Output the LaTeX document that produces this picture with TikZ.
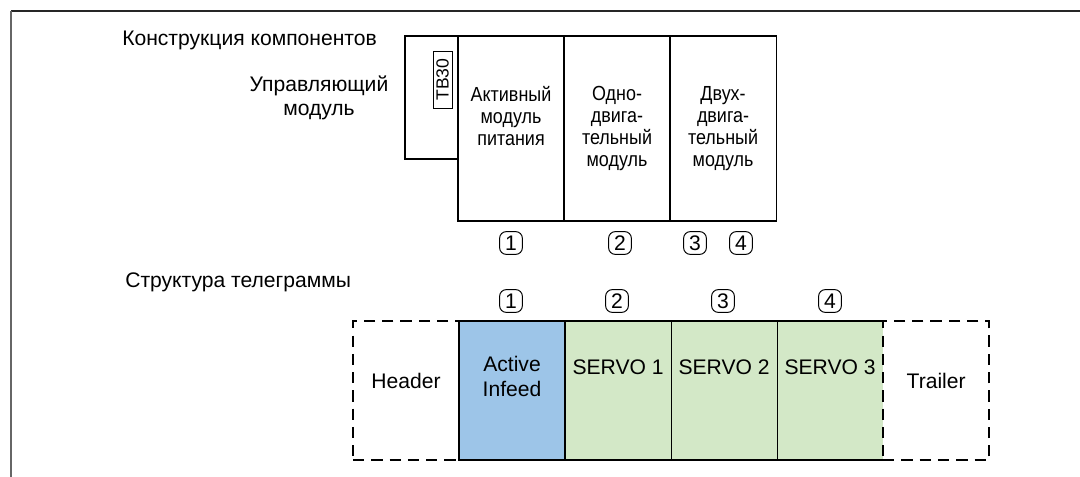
\documentclass[tikz,border=0pt]{standalone}
\usepackage{fontspec}
\setmainfont{Liberation Sans}
\newfontfamily\narrowsans[FakeStretch=0.88]{Liberation Sans}
\usetikzlibrary{calc,positioning}
\definecolor{infeedblue}{RGB}{157,197,232}
\definecolor{servogreen}{RGB}{211,232,199}

\begin{document}
\begin{tikzpicture}[
  x=0.025cm, y=-0.025cm,
  every node/.style={font=\fontsize{15}{17}\selectfont},
  module/.style={draw=black,line width=0.8pt,outer sep=0pt,inner sep=0pt,
                 minimum width=2.65cm,minimum height=4.625cm},
  modtext/.style={align=center,anchor=north,inner sep=0pt,
                  font=\narrowsans\fontsize{14.5}{15.6}\selectfont},
  slot/.style={line width=0.8pt,outer sep=0pt,inner sep=0pt,
               minimum width=2.65cm,minimum height=3.475cm},
  frame/.style={slot,draw=black,dashed,line width=1.2pt,
                dash pattern=on 8pt off 5pt},
  num/.style={draw=black,line width=0.7pt,rounded corners=0.17cm,
              minimum width=0.57cm,minimum height=0.57cm,inner sep=0pt,
              font=\fontsize{15}{17}\selectfont},
  lowtext/.style={font=\fontsize{15}{17.8}\selectfont,inner sep=0pt}
]
\useasboundingbox (0,0) rectangle (1080,477);
\draw[line width=1pt,black!85] (1080,11) -- (11,11);
\draw[line width=1pt,black!60] (11,11) -- (11,477);

% component layout
\node[anchor=base west,inner sep=0pt] (titleA) at (122,46) {Конструкция компонентов};
\node[module,anchor=north west] (m1) at (458,36) {};
\node[module,right=0pt of m1] (m2) {};
\node[module,right=0pt of m2] (m3) {};
\node[module,anchor=north east,minimum width=1.325cm,minimum height=3.075cm]
  (ctrl) at (m1.north west) {};
\node[draw=black,line width=0.6pt,rotate=90,minimum width=1.425cm,
      minimum height=0.475cm,inner sep=0pt,font=\fontsize{12.5}{14}\selectfont]
  (tb) at (442.5,79.5) {TB30};
\node[align=center,anchor=north,inner sep=0pt,
      font=\fontsize{15}{17}\selectfont] (ctrltxt) at (319,76)
  {Управляющий\\модуль};

\node[modtext] (m1txt) at ($(m1.north)+(0,50)$) {Активный\\модуль\\питания};
\node[modtext] (m2txt) at ($(m2.north)+(0,50)$) {Одно-\\двига-\\тельный\\модуль};
\node[modtext] (m3txt) at ($(m3.north)+(0,50)$) {Двух-\\двига-\\тельный\\модуль};

\node[num] (c1) at (511,243) {1};
\node[num] (c2) at (620,243) {2};
\node[num] (c3) at (695,243) {3};
\node[num] (c4) at (741,243) {4};

% telegram layout
\node[anchor=base west,inner sep=0pt] (titleB) at (125,288) {Структура телеграммы};
\node[frame,anchor=north west] (hdr) at (353,321) {};
\node[slot,draw=black,fill=infeedblue,right=0pt of hdr] (inf) {};
\node[slot,draw=black,fill=servogreen,right=0pt of inf] (s1) {};
\node[slot,draw=black,fill=servogreen,right=0pt of s1] (s2) {};
\node[slot,fill=servogreen,right=0pt of s2] (s3) {};
\draw[line width=0.8pt] (s3.north east) -- (s3.north west)
  -- (s3.south west) -- (s3.south east);
\node[frame,right=0pt of s3] (trl) {};

\node[lowtext,anchor=base,yshift=0.06cm] (hdrtxt) at (hdr.center) {Header};
\node[lowtext,anchor=base,yshift=0.06cm] (trltxt) at (trl.center) {Trailer};
\node[lowtext,align=center,anchor=north] (inftxt) at ($(inf.north)+(0,35)$)
  {Active\\Infeed};
\node[lowtext,anchor=base,yshift=0.39cm] (s1txt) at (s1.center) {SERVO 1};
\node[lowtext,anchor=base,yshift=0.39cm] (s2txt) at (s2.center) {SERVO 2};
\node[lowtext,anchor=base,yshift=0.39cm] (s3txt) at (s3.center) {SERVO 3};

\node[num] (t1) at (511,301) {1};
\node[num] (t2) at (617,301) {2};
\node[num] (t3) at (723,301) {3};
\node[num] (t4) at (830,301) {4};
\end{tikzpicture}
\end{document}
